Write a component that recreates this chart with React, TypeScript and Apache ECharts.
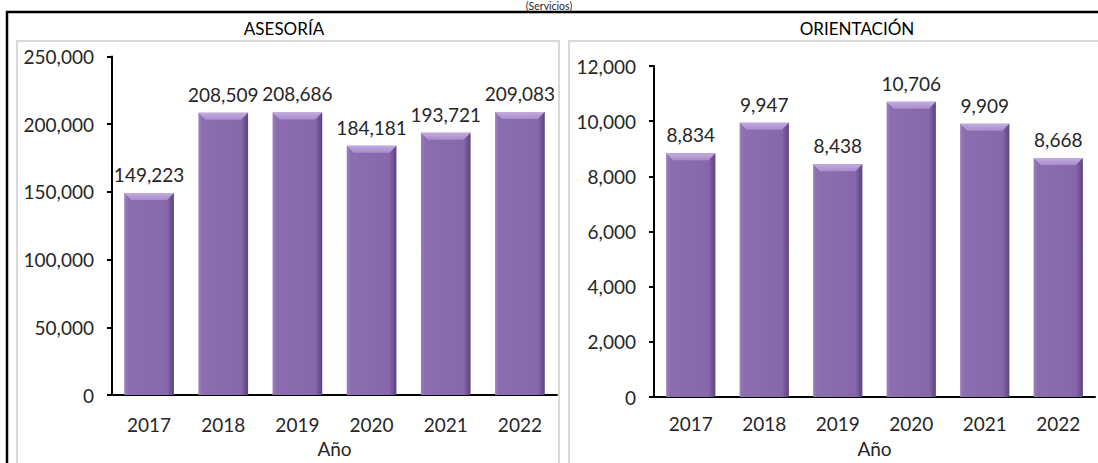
import React, { useEffect, useRef } from "react";
import * as echarts from "echarts";

const years = ["2017", "2018", "2019", "2020", "2021", "2022"];
const asesoria = [149223, 208509, 208686, 184181, 193721, 209083];
const orientacion = [8834, 9947, 8438, 10706, 9909, 8668];
const asesoriaAxis = { min: 0, max: 250000, interval: 50000 };
const orientacionAxis = { min: 0, max: 12000, interval: 2000 };
const panelTitles = ["ASESORÍA", "ORIENTACIÓN"];
const xAxisName = "Año";
const subtitle = "(Servicios)";

const FONT = "Lato, 'Open Sans', sans-serif";
const TXT = "#262626";
const FS = 19;
const fmt = (v: number) => v.toLocaleString("en-US");

const bevelBar = (params: any, api: any) => {
  const idx = api.value(0);
  const v = api.value(1);
  const top = api.coord([idx, v]);
  const base = api.coord([idx, 0]);
  const bw = api.size([1, 0])[0] * 0.67;
  const l = top[0] - bw / 2;
  const r = top[0] + bw / 2;
  const t = top[1];
  const b = base[1];
  const bv = 7;
  return {
    type: "group",
    children: [
      {
        type: "rect",
        shape: { x: l, y: t, width: bw, height: b - t },
        style: {
          fill: new echarts.graphic.LinearGradient(0, 0, 1, 0, [
            { offset: 0, color: "#9A80BD" },
            { offset: 0.08, color: "#8B6EAF" },
            { offset: 0.86, color: "#8767AB" },
            { offset: 0.93, color: "#6F5593" },
            { offset: 1, color: "#5A4479" },
          ]),
        },
      },
      {
        type: "polygon",
        shape: { points: [[l, t], [r, t], [r - bv, t + bv], [l + bv, t + bv]] },
        style: {
          fill: new echarts.graphic.LinearGradient(0, 0, 0, 1, [
            { offset: 0, color: "#C2ACE0" },
            { offset: 1, color: "#A88CCB" },
          ]),
        },
      },
      {
        type: "text",
        x: top[0],
        y: t - 9,
        style: {
          text: fmt(v),
          align: "center",
          verticalAlign: "bottom",
          fontSize: FS,
          fontFamily: FONT,
          fill: TXT,
        },
      },
    ],
  };
};

const yAxisBase = (gridIndex: number, cfg: any) => ({
  type: "value",
  gridIndex,
  min: cfg.min,
  max: cfg.max,
  interval: cfg.interval,
  axisLine: { show: true, lineStyle: { color: "#000", width: 2 } },
  axisTick: { show: true, length: 5, lineStyle: { color: "#000", width: 2 } },
  splitLine: { show: false },
  axisLabel: {
    formatter: (v: number) => fmt(v),
    fontSize: FS,
    fontFamily: FONT,
    color: TXT,
    margin: 18,
  },
});

const xAxisBase = (gridIndex: number, margin: number, nameGap: number) => ({
  type: "category",
  gridIndex,
  data: years,
  axisLine: { show: true, lineStyle: { color: "#000", width: 2 } },
  axisTick: { show: false },
  axisLabel: { fontSize: FS, fontFamily: FONT, color: TXT, margin },
  name: xAxisName,
  nameLocation: "middle",
  nameGap,
  nameTextStyle: { fontSize: FS, fontFamily: FONT, color: TXT },
});

export default function App() {
  const ref = useRef<HTMLDivElement>(null);
  useEffect(() => {
    document.body.style.margin = "0";
    const chart = echarts.init(ref.current!, undefined, { renderer: "svg" });
    chart.setOption({
      animation: false,
      backgroundColor: "#fff",
      grid: [
        { left: 112, top: 56.5, width: 445, height: 345.5 },
        { left: 654, top: 66, width: 441, height: 331.7 },
      ],
      xAxis: [xAxisBase(0, 20, 42), xAxisBase(1, 17, 42)],
      yAxis: [yAxisBase(0, asesoriaAxis), yAxisBase(1, orientacionAxis)],
      series: [
        {
          type: "custom",
          xAxisIndex: 0,
          yAxisIndex: 0,
          renderItem: bevelBar,
          encode: { x: 0, y: 1 },
          data: asesoria.map((v, i) => [i, v]),
        },
        {
          type: "custom",
          xAxisIndex: 1,
          yAxisIndex: 1,
          renderItem: bevelBar,
          encode: { x: 0, y: 1 },
          data: orientacion.map((v, i) => [i, v]),
        },
      ],
      graphic: [
        {
          type: "rect",
          shape: { x: 17, y: 41, width: 542, height: 440 },
          style: { fill: "none", stroke: "#D9D9D9", lineWidth: 2 },
          z: -1,
        },
        {
          type: "rect",
          shape: { x: 569, y: 41, width: 540, height: 440 },
          style: { fill: "none", stroke: "#D9D9D9", lineWidth: 2 },
          z: -1,
        },
        {
          type: "line",
          shape: { x1: 6, y1: 12, x2: 1100, y2: 12 },
          style: { stroke: "#000", lineWidth: 2.5 },
        },
        {
          type: "line",
          shape: { x1: 7, y1: 11, x2: 7, y2: 470 },
          style: { stroke: "#000", lineWidth: 2.5 },
        },
        {
          type: "text",
          x: 549,
          y: 0,
          style: {
            text: subtitle,
            align: "center",
            verticalAlign: "top",
            fontSize: 10.5,
            fontFamily: FONT,
            fill: TXT,
          },
        },
        {
          type: "text",
          x: 284,
          y: 28,
          style: {
            text: panelTitles[0],
            align: "center",
            verticalAlign: "middle",
            fontSize: 17,
            fontFamily: FONT,
            fill: "#000",
          },
        },
        {
          type: "text",
          x: 857,
          y: 28,
          style: {
            text: panelTitles[1],
            align: "center",
            verticalAlign: "middle",
            fontSize: 17,
            fontFamily: FONT,
            fill: "#000",
          },
        },
      ],
    });
    return () => chart.dispose();
  }, []);
  return <div ref={ref} style={{ width: 1098, height: 463 }} />;
}
